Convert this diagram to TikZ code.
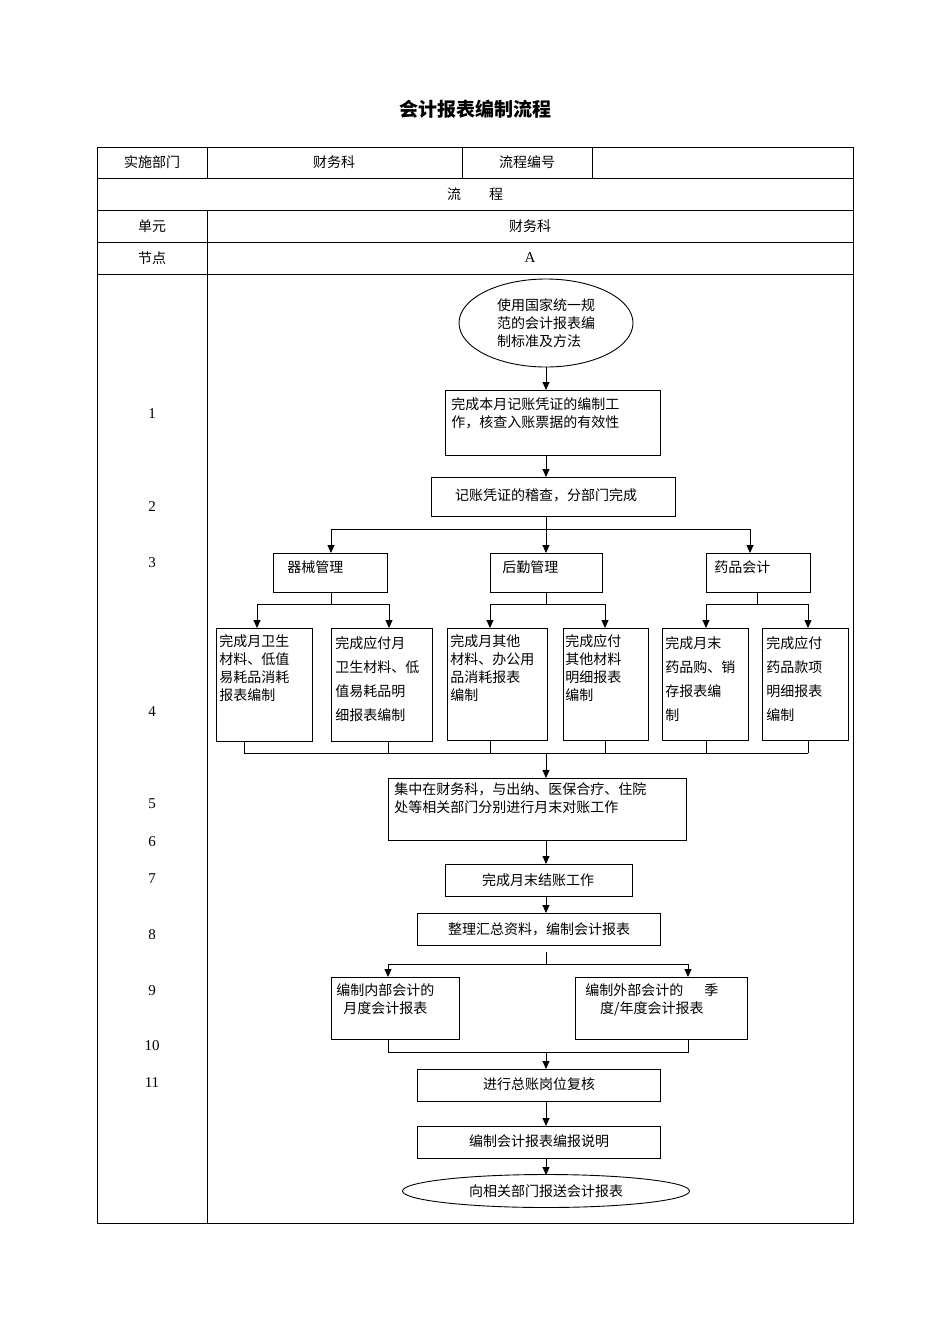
\documentclass[tikz,border=0pt]{standalone}
\usepackage{fontspec}
\setmainfont{Liberation Serif}
\newfontfamily\cjk{Noto Sans CJK SC}
\usetikzlibrary{shapes.geometric,arrows.meta}
\begin{document}
\begin{tikzpicture}[x=1pt,y=-1pt,line width=0.9pt,
  every node/.style={font=\cjk\fontsize{14}{18}\selectfont,inner sep=0pt},
  bx/.style={draw,anchor=north west},
  tx/.style={anchor=north west,align=left},
  arr/.style={-{Triangle[length=8pt,width=7pt]}},
  lab/.style={font=\fontsize{15}{18}\selectfont}]
\useasboundingbox (0,0) rectangle (950,1344);
% table
\draw (97,147) rectangle (853,1223);
\foreach \y in {178,210,242,274} \draw (97,\y) -- (853,\y);
\draw (207,147) -- (207,178);
\draw (207,210) -- (207,1223);
\draw (462,147) -- (462,178) (592,147) -- (592,178);
\node[font=\cjk\bfseries\fontsize{19}{22}\selectfont] (title) at (475,109) {会计报表编制流程};
\node (h1) at (152,162) {实施部门};
\node (h2) at (334,162) {财务科};
\node (h3) at (527,162) {流程编号};
\node (h4) at (475,194) {流\hspace{2em}程};
\node (h5) at (152,226) {单元};
\node (h6) at (530,226) {财务科};
\node (h7) at (152,258) {节点};
\node[lab] (h8) at (530,258) {A};
\foreach \n/\y in {1/414,2/507,3/563,4/712,5/804,6/842,7/879,8/935,9/991,10/1046,11/1083}
  \node[lab] (l\n) at (152,\y) {\n};
% nodes
\node[draw,ellipse,minimum width=174,minimum height=88,align=left] (e1) at (546,323) {使用国家统一规\\范的会计报表编\\制标准及方法};
\node[bx,minimum width=215,minimum height=65] (b1) at (445,390) {};
\node[tx] at (451,397) {完成本月记账凭证的编制工\\作，核查入账票据的有效性};
\node[bx,minimum width=244,minimum height=39] (b2) at (431,477) {};
\node at (546,495) {记账凭证的稽查，分部门完成};
\node[bx,minimum width=114,minimum height=39] (c1) at (273,553) {};
\node[tx] at (287,560) {器械管理};
\node[bx,minimum width=112,minimum height=39] (c2) at (490,553) {};
\node[tx] at (502,560) {后勤管理};
\node[bx,minimum width=104,minimum height=39] (c3) at (706,553) {};
\node[tx] at (714,560) {药品会计};
\node[bx,minimum width=96,minimum height=113] (d1) at (216,628) {};
\node[tx] at (219,634) {完成月卫生\\材料、低值\\易耗品消耗\\报表编制};
\node[bx,minimum width=101,minimum height=113] (d2) at (331,628) {};
\node[tx,font=\cjk\fontsize{14}{24}\selectfont] at (335,636) {完成应付月\\卫生材料、低\\值易耗品明\\细报表编制};
\node[bx,minimum width=100,minimum height=112] (d3) at (447,628) {};
\node[tx] at (450,634) {完成月其他\\材料、办公用\\品消耗报表\\编制};
\node[bx,minimum width=85,minimum height=112] (d4) at (563,628) {};
\node[tx] at (565,634) {完成应付\\其他材料\\明细报表\\编制};
\node[bx,minimum width=86,minimum height=112] (d5) at (662,628) {};
\node[tx,font=\cjk\fontsize{14}{24}\selectfont] at (665,636) {完成月末\\药品购、销\\存报表编\\制};
\node[bx,minimum width=86,minimum height=112] (d6) at (762,628) {};
\node[tx,font=\cjk\fontsize{14}{24}\selectfont] at (766,636) {完成应付\\药品款项\\明细报表\\编制};
\node[bx,minimum width=298,minimum height=62] (b5) at (388,778) {};
\node[tx] at (394,782) {集中在财务科，与出纳、医保合疗、住院\\处等相关部门分别进行月末对账工作};
\node[bx,minimum width=187,minimum height=32] (b7) at (445,864) {};
\node at (538,880) {完成月末结账工作};
\node[bx,minimum width=243,minimum height=32] (b8) at (417,913) {};
\node at (539,929) {整理汇总资料，编制会计报表};
\node[bx,minimum width=128,minimum height=62] (f1) at (331,977) {};
\node[tx,align=center] at (336,983) {编制内部会计的\\月度会计报表};
\node[bx,minimum width=172,minimum height=62] (f2) at (575,977) {};
\node[tx,align=center] at (585,983) {编制外部会计的\hspace{1.5em}季\\度/年度会计报表};
\node[bx,minimum width=243,minimum height=32] (b11) at (417,1069) {};
\node at (539,1084) {进行总账岗位复核};
\node[bx,minimum width=243,minimum height=32] (b12) at (417,1126) {};
\node at (539,1141) {编制会计报表编报说明};
\node[draw,ellipse,minimum width=287,minimum height=33] (e2) at (546,1191) {向相关部门报送会计报表};
% connectors
\draw[arr] (e1.south) -- (b1.north -| e1.south);
\draw[arr] (546,455) -- (546,477);
\draw (546,516) -- (546,529);
\draw (331,529) -- (750,529);
\draw[arr] (331,529) -- (331,553);
\draw[arr] (546,529) -- (546,553);
\draw[arr] (750,529) -- (750,553);
\draw (331,592) -- (331,604) (257,604) -- (389,604);
\draw[arr] (257,604) -- (257,628); \draw[arr] (389,604) -- (389,628);
\draw (546,592) -- (546,604) (490,604) -- (605,604);
\draw[arr] (490,604) -- (490,628); \draw[arr] (605,604) -- (605,628);
\draw (757,592) -- (757,604) (706,604) -- (808,604);
\draw[arr] (706,604) -- (706,628); \draw[arr] (808,604) -- (808,628);
\draw (244,753) -- (808,753);
\foreach \x in {244,388,490,605,706,808} \draw (\x,741) -- (\x,753);
\draw[arr] (546,753) -- (546,778);
\draw[arr] (546,840) -- (546,864);
\draw[arr] (546,896) -- (546,913);
\draw (546,952) -- (546,964) (388,964) -- (688,964);
\draw[arr] (388,964) -- (388,977); \draw[arr] (688,964) -- (688,977);
\draw (388,1039) -- (388,1052) -- (688,1052) -- (688,1039);
\draw[arr] (546,1052) -- (546,1069);
\draw[arr] (546,1101) -- (546,1126);
\draw[arr] (546,1158) -- (546,1175);
\end{tikzpicture}
\end{document}
